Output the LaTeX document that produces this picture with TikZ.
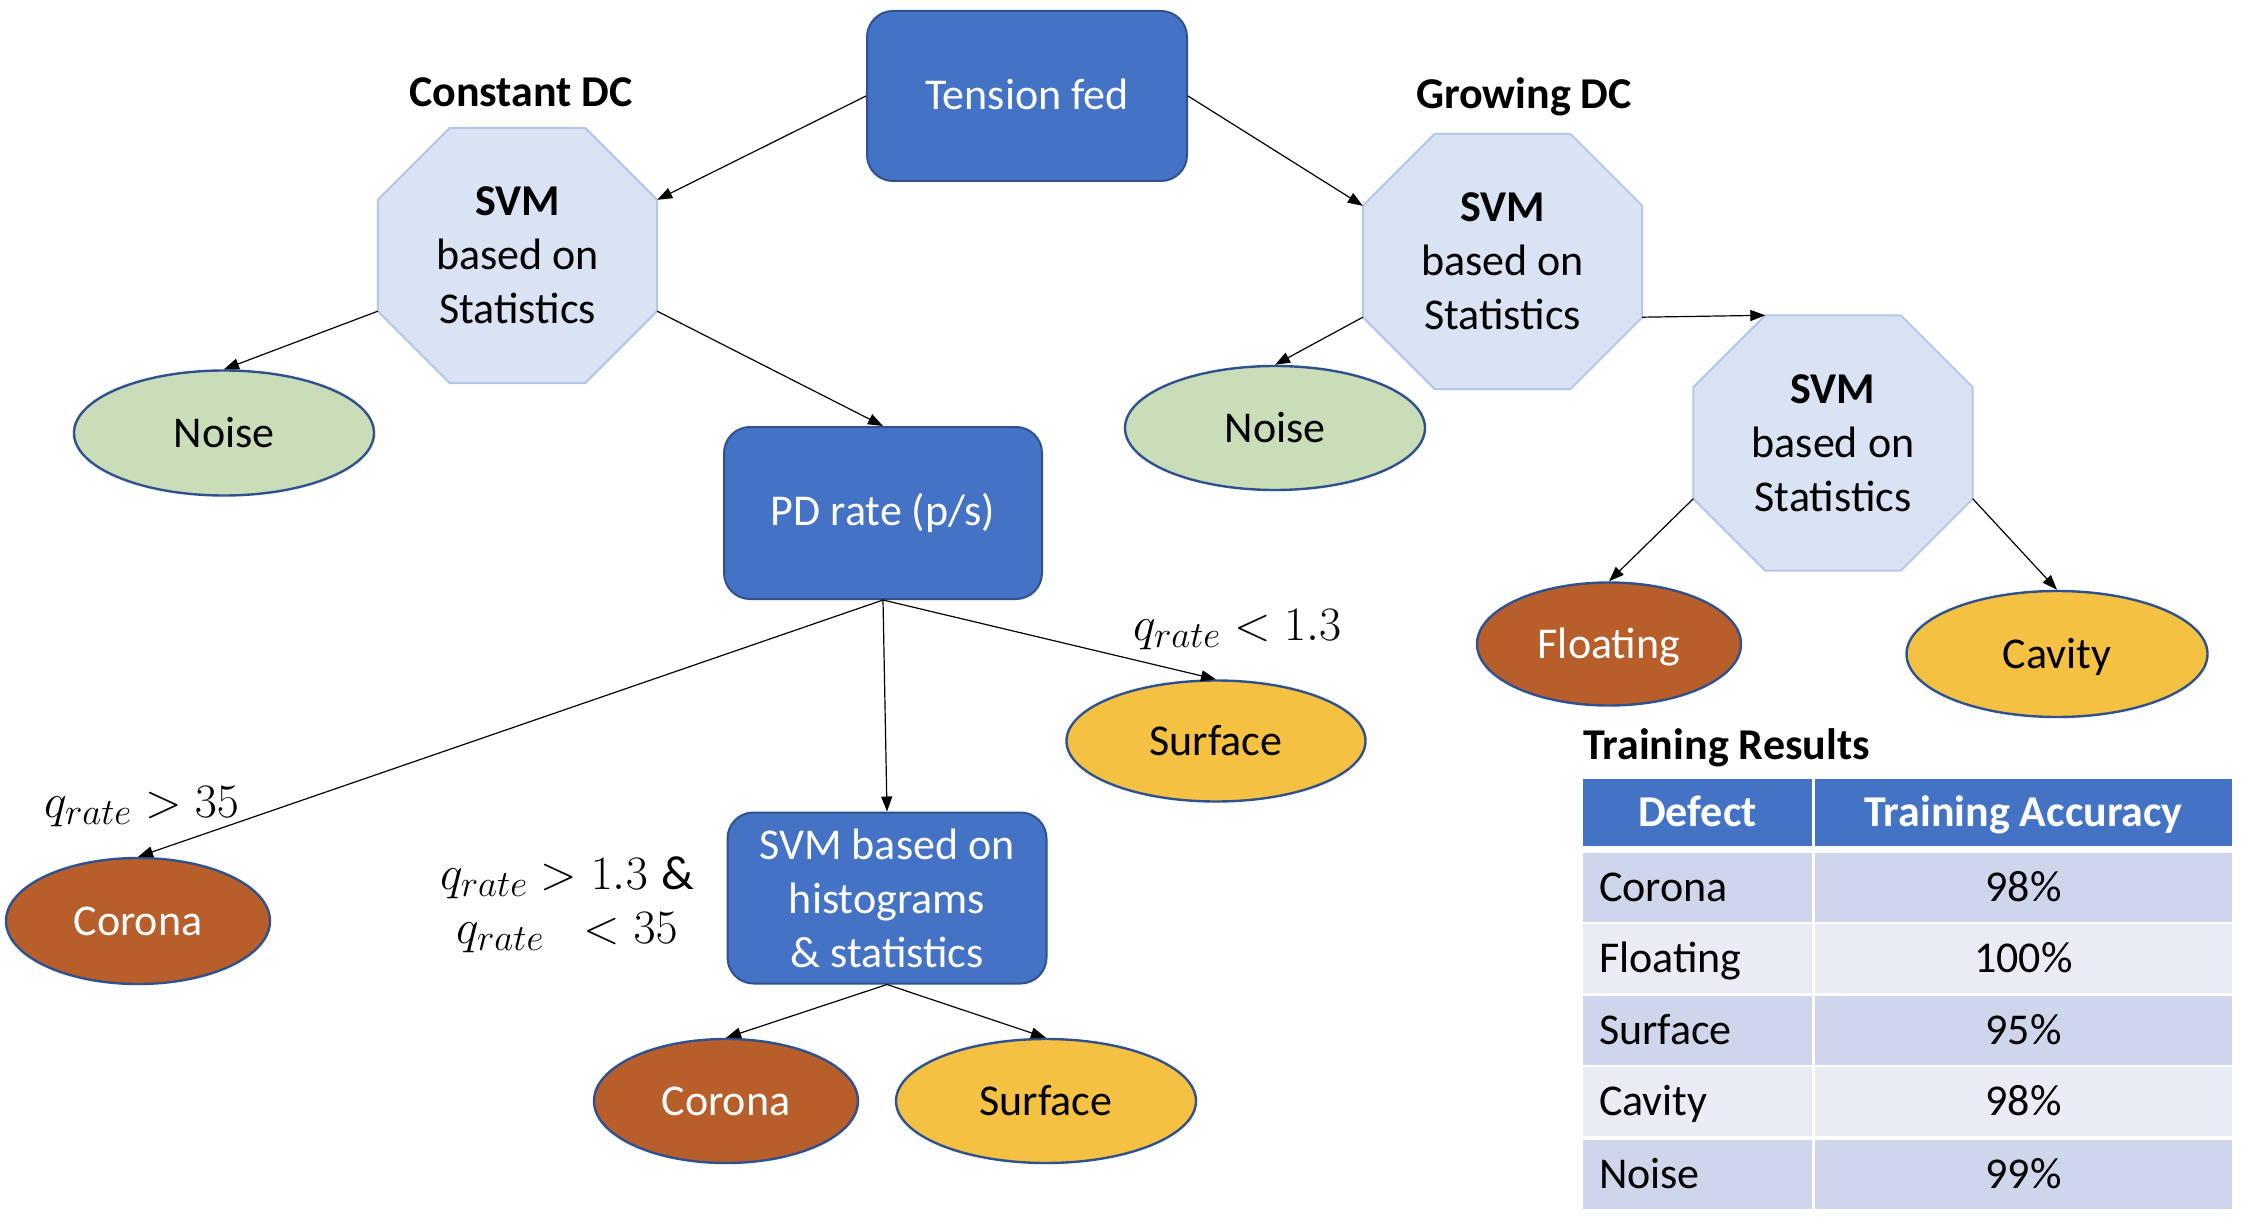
\RequirePackage{fix-cm}
\documentclass[tikz,border=0pt]{standalone}
\usepackage{fontspec}
\setmainfont{Carlito}
\DeclareMathSizes{48}{48}{37}{29}
\usetikzlibrary{shapes.geometric,arrows.meta,backgrounds}
\definecolor{boxblue}{HTML}{4472C4}
\definecolor{boxline}{HTML}{2F528F}
\definecolor{octfill}{HTML}{DAE3F3}
\definecolor{octline}{HTML}{B4C7E7}
\definecolor{noisegreen}{HTML}{C9DEB8}
\definecolor{corbrown}{HTML}{B85E2B}
\definecolor{surfgold}{HTML}{F4C143}
\definecolor{rowdark}{HTML}{CFD5EA}
\definecolor{rowlight}{HTML}{E9EBF5}
\newcommand\octshape[1]{%
  \coordinate (#1-tl) at ([xshift=72pt]#1.north west);
  \coordinate (#1-tr) at ([xshift=-72pt]#1.north east);
  \coordinate (#1-rt) at ([yshift=-72pt]#1.north east);
  \coordinate (#1-rb) at ([yshift=72pt]#1.south east);
  \coordinate (#1-br) at ([xshift=-72pt]#1.south east);
  \coordinate (#1-bl) at ([xshift=72pt]#1.south west);
  \coordinate (#1-lb) at ([yshift=72pt]#1.south west);
  \coordinate (#1-lt) at ([yshift=-72pt]#1.north west);
  \begin{scope}[on background layer]
    \filldraw[fill=octfill,draw=octline,line width=2pt] (#1-tl)--(#1-tr)--(#1-rt)--(#1-rb)--(#1-br)--(#1-bl)--(#1-lb)--(#1-lt)--cycle;
  \end{scope}}
\begin{document}
\begin{tikzpicture}[x=1pt,y=-1pt,
  every node/.style={font=\fontsize{44}{54}\selectfont},
  capc/.style={text height=28pt,text depth=0pt},
  bluebox/.style={rounded corners=26pt,fill=boxblue,draw=boxline,line width=2pt,text=white,inner sep=0pt,align=center},
  octbox/.style={inner sep=0pt,align=center,minimum width=279pt,minimum height=255pt},
  oval/.style={ellipse,draw=boxline,line width=2.4pt,inner sep=0pt,capc},
  noiseoval/.style={oval,fill=noisegreen},
  coroval/.style={oval,fill=corbrown,text=white},
  surfoval/.style={oval,fill=surfgold},
  conn/.style={draw,line width=1.2pt,-{Triangle[length=15pt,width=11pt]}},
  title/.style={font=\fontsize{44}{54}\selectfont\bfseries,anchor=base},
  mathlbl/.style={font=\fontsize{48}{54}\selectfont,anchor=base west,inner sep=0pt},
  hcell/.style={fill=boxblue,text=white,font=\fontsize{44}{54}\selectfont\bfseries,capc,inner sep=0pt,minimum height=67pt},
  lcell/.style={capc,inner sep=0pt,inner xsep=16pt,text width=197pt,align=left,minimum height=69pt},
  rcell/.style={capc,inner sep=0pt,minimum width=417pt,minimum height=69pt}
]
\useasboundingbox (0,0) rectangle (2248,1222);
\begin{scope}[on background layer]
  \fill[white] (0,0) rectangle (2248,1222);
\end{scope}

% boxes
\node[bluebox,capc,minimum width=320pt,minimum height=170pt] (tf) at (1027,96) {Tension fed};
\node[bluebox,minimum width=318pt,minimum height=172pt] (pd) at (883,513) {PD rate (p/s)};
\node[bluebox,minimum width=319pt,minimum height=171pt] (sh) at (887,898) {SVM based on\\histograms\\\& statistics};

% octagons
\node[octbox] (o1) at (517.5,255.5) {\textbf{SVM}\\based on\\Statistics};
\octshape{o1}
\node[octbox] (o2) at (1502.5,261.5) {\textbf{SVM}\\based on\\Statistics};
\octshape{o2}
\node[octbox] (o3) at (1833,443) {\textbf{SVM}\\based on\\Statistics};
\octshape{o3}

% titles
\node[title] (tc) at (521,107) {Constant DC};
\node[title] (tg) at (1524,109) {Growing DC};

% ellipses
\node[noiseoval,minimum width=300pt,minimum height=125pt] (n1) at (224,433) {Noise};
\node[noiseoval,minimum width=300pt,minimum height=124pt] (n2) at (1275,428) {Noise};
\node[coroval,minimum width=264pt,minimum height=123pt] (fl) at (1609,644) {Floating};
\node[surfoval,minimum width=301pt,minimum height=126pt] (cv) at (2057,654) {Cavity};
\node[surfoval,minimum width=299pt,minimum height=121pt] (s1) at (1216,741) {Surface};
\node[coroval,minimum width=264pt,minimum height=126pt] (c1) at (138,921) {Corona};
\node[coroval,minimum width=264pt,minimum height=124pt] (c2) at (726,1101) {Corona};
\node[surfoval,minimum width=300pt,minimum height=124pt] (s2) at (1046,1101) {Surface};

% condition labels
\node[mathlbl] (l1) at (44,817) {$q_{rate} > 35$};
\node[mathlbl,anchor=base] (l2a) at (567,889) {$q_{rate} > 1.3\;\&$};
\node[mathlbl,anchor=base] (l2b) at (567,943) {$q_{rate}\;\; < 35$};
\node[mathlbl] (l3) at (1133,640) {$q_{rate} < 1.3$};

% connectors
\draw[conn] (tf.west) -- (o1-rt);
\draw[conn] (tf.east) -- (o2-lt);
\draw[conn] (o1-lb) -- (n1.north);
\draw[conn] (o1-rb) -- (pd.north);
\draw[conn] (o2-lb) -- (n2.north);
\draw[conn] (o2-rb) -- (o3-tl);
\draw[conn] (o3-lb) -- (fl.north);
\draw[conn] (o3-rb) -- (cv.north);
\draw[conn] (pd.south) -- (c1.north);
\draw[conn] (pd.south) -- (sh.north);
\draw[conn] (pd.south) -- (s1.north);
\draw[conn] (sh.south) -- (c2.north);
\draw[conn] (sh.south) -- (s2.north);

% table
\node[title,anchor=base west,inner sep=0pt] (tr) at (1583,759) {Training Results};
\node[hcell,minimum width=229pt] (h1) at (1697.5,812.5) {Defect};
\node[hcell,minimum width=417pt] (h2) at (2023.5,812.5) {Training Accuracy};
\node[lcell,fill=rowdark] (a1) at (1697.5,887.5) {Corona};
\node[rcell,fill=rowdark] (b1) at (2023.5,887.5) {98\%};
\node[lcell,fill=rowlight] (a2) at (1697.5,958.5) {Floating};
\node[rcell,fill=rowlight] (b2) at (2023.5,958.5) {100\%};
\node[lcell,fill=rowdark] (a3) at (1697.5,1030) {Surface};
\node[rcell,fill=rowdark] (b3) at (2023.5,1030) {95\%};
\node[lcell,fill=rowlight] (a4) at (1697.5,1101.5) {Cavity};
\node[rcell,fill=rowlight] (b4) at (2023.5,1101.5) {98\%};
\node[lcell,fill=rowdark] (a5) at (1697.5,1174) {Noise};
\node[rcell,fill=rowdark] (b5) at (2023.5,1174) {99\%};
\end{tikzpicture}
\end{document}
